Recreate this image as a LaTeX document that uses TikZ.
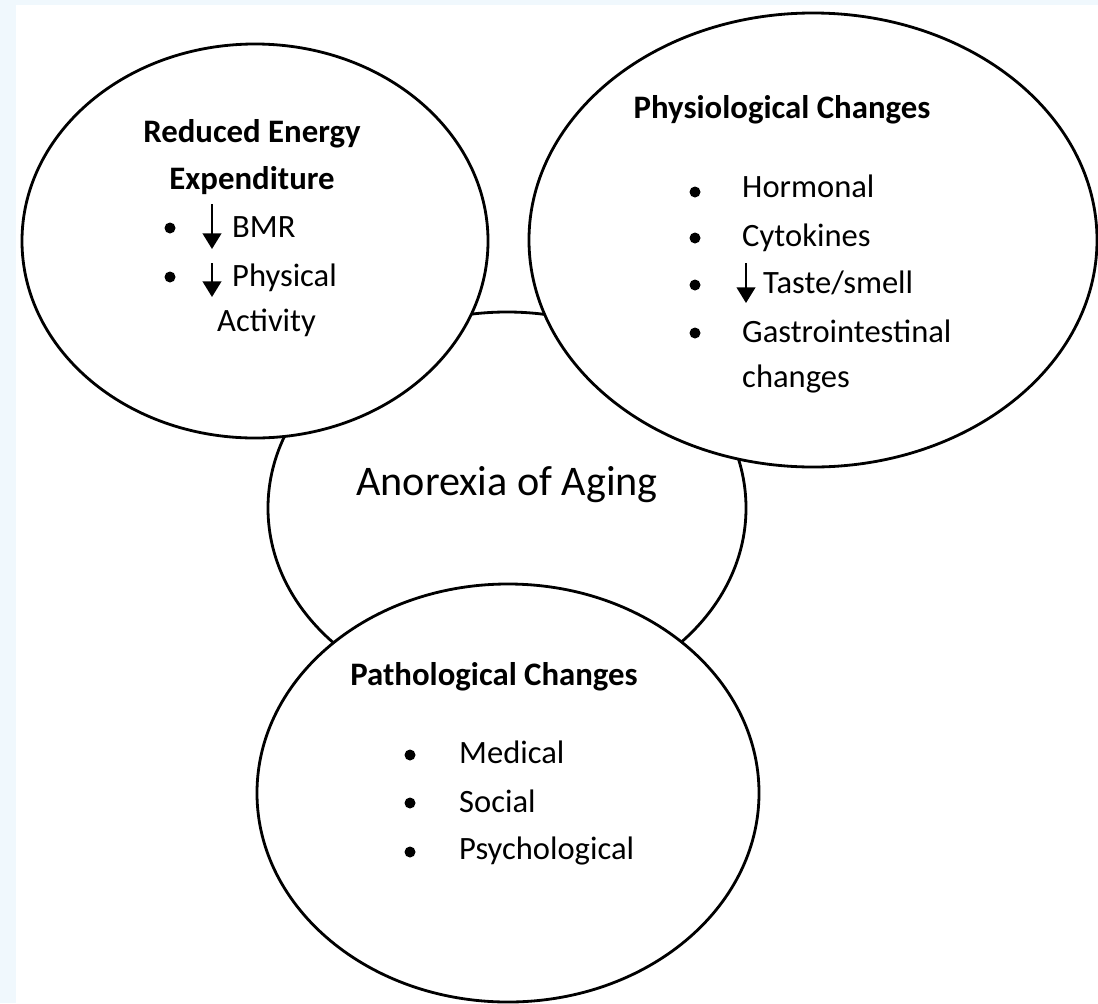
\documentclass[tikz,border=0pt]{standalone}
\usepackage{fontspec}
\setmainfont{Carlito}
\usetikzlibrary{shapes.geometric,arrows.meta}
\definecolor{edgeblue}{RGB}{240,248,253}
\tikzset{
	oval/.style={ellipse, draw, line width=2.4pt, fill=white, inner sep=0pt},
	hdr/.style={font=\fontsize{28}{33}\selectfont\bfseries, anchor=base, inner sep=0pt},
	item/.style={font=\fontsize{27.8}{33}\selectfont, anchor=base west, inner sep=0pt},
	blt/.style={circle, fill, inner sep=0pt, minimum size=0.33cm},
	down/.style={line width=1.8pt, -{Triangle[width=0.56cm,length=0.47cm]}},
}

\begin{document}
\begin{tikzpicture}[x=0.03cm, y=-0.03cm]
	\useasboundingbox (0,0) rectangle (1098,1003);
	\fill [edgeblue] (0,0) rectangle (1098,1003);
	\fill [white] (16,5) rectangle (1098,1003);

	\node [oval, minimum width=14.34cm, minimum height=11.76cm] (aging) at (507,508) {};
	\node [oval, minimum width=13.98cm, minimum height=11.82cm] (energy) at (255,241) {};
	\node [oval, minimum width=17.04cm, minimum height=13.62cm] (physio) at (813,240) {};
	\node [oval, minimum width=15.06cm, minimum height=12.54cm] (patho) at (508,793) {};

	\node [inner sep=0pt, anchor=base, font=\fontsize{36}{42}\selectfont] (agingtxt) at (507,495) {Anorexia of Aging};

	% reduced energy expenditure
	\node [hdr] (energyhd) at (252,142) {Reduced Energy};
	\node [hdr] (energyhd2) at (252,189) {Expenditure};
	\node [blt] (eb1) at (170,228) {};
	\node [blt] (eb2) at (170,277) {};
	\node [item] (bmr) at (232,237) {BMR};
	\node [item] (phys) at (232,286) {Physical};
	\node [item] (act) at (217,331) {Activity};
	\draw [down] ([shift={(-20,-33)}]bmr.base west) -- ([shift={(-20,12)}]bmr.base west);
	\draw [down] ([shift={(-20,-23)}]phys.base west) -- ([shift={(-20,11)}]phys.base west);

	% physiological changes
	\node [hdr] (physiohd) at (782,118) {Physiological Changes};
	\node [blt] (pb1) at (695,192) {};
	\node [blt] (pb2) at (695,238) {};
	\node [blt] (pb3) at (695,285) {};
	\node [blt] (pb4) at (695,333) {};
	\node [item] (horm) at (742,197) {Hormonal};
	\node [item] (cyto) at (742,246) {Cytokines};
	\node [item] (taste) at (763,293) {Taste/smell};
	\node [item] (gastro) at (742,342) {Gastrointestinal};
	\node [item] (chg) at (742,387) {changes};
	\draw [down] ([shift={(-17,-30)}]taste.base west) -- ([shift={(-17,10)}]taste.base west);

	% pathological changes
	\node [hdr] (pathohd) at (494,685) {Pathological Changes};
	\node [blt] (qb1) at (410,755) {};
	\node [blt] (qb2) at (410,803) {};
	\node [blt] (qb3) at (410,852) {};
	\node [item] (med) at (459,763) {Medical};
	\node [item] (soc) at (459,812) {Social};
	\node [item] (psy) at (459,859) {Psychological};
\end{tikzpicture}
\end{document}
